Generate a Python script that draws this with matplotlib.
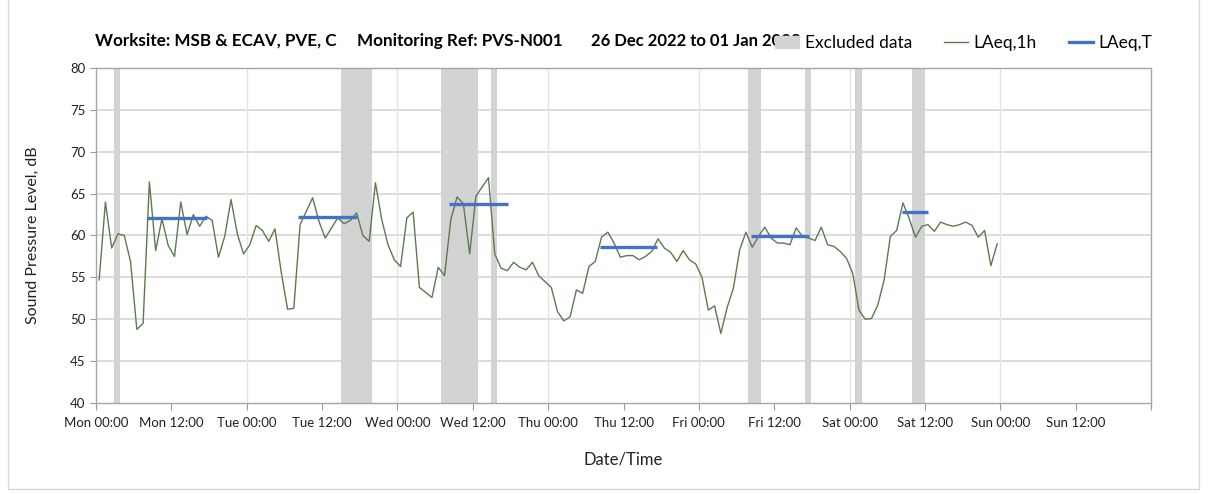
import numpy as np
import matplotlib
matplotlib.use("Agg")
from matplotlib import pyplot as plt
from matplotlib.patches import Patch, Rectangle
from matplotlib.lines import Line2D

plt.rcParams['font.family'] = ['Lato', 'DejaVu Sans']

# hourly LAeq,1h values, Mon 00:00 onwards (one per hour)
laeq_1h = [
    54.7, 64.0, 58.5, 60.2, 60.0, 56.9, 48.8, 49.5, 66.4, 58.2, 62.0, 58.8,
    57.5, 64.0, 60.1, 62.5, 61.1, 62.3, 61.8, 57.4, 59.9, 64.3, 60.2, 57.8,
    58.9, 61.2, 60.6, 59.3, 60.8, 55.6, 51.2, 51.3, 61.3, 62.9, 64.5, 61.7,
    59.7, 60.9, 62.1, 61.4, 61.8, 62.7, 60.0, 59.3, 66.3, 61.9, 58.9, 57.1,
    56.3, 62.1, 62.8, 53.8, 53.2, 52.6, 56.2, 55.2, 61.9, 64.6, 63.8, 57.8,
    64.7, 65.8, 66.9, 57.8, 56.1, 55.8, 56.8, 56.2, 55.9, 56.8, 55.2, 54.5,
    53.8, 50.9, 49.8, 50.3, 53.5, 53.1, 56.3, 56.9, 59.8, 60.4, 59.1, 57.4,
    57.6, 57.6, 57.1, 57.5, 58.1, 59.6, 58.5, 58.0, 56.9, 58.2, 57.1, 56.6,
    55.0, 51.1, 51.6, 48.3, 51.4, 53.7, 58.3, 60.4, 58.6, 59.9, 61.0, 59.7,
    59.1, 59.1, 58.9, 60.9, 59.9, 59.7, 59.4, 61.0, 58.9, 58.7, 58.1, 57.3,
    55.5, 51.1, 50.0, 50.1, 51.7, 54.7, 59.9, 60.6, 63.9, 62.0, 59.8, 61.1,
    61.3, 60.5, 61.6, 61.3, 61.1, 61.3, 61.6, 61.2, 59.8, 60.6, 56.4, 59.0,
]

# excluded periods, hours from Mon 00:00
excl_start = [2.9, 39.0, 55.0, 62.9, 103.9, 112.9, 120.9, 129.9]
excl_end = [3.9, 43.9, 60.8, 63.8, 105.9, 113.9, 122.0, 132.0]

# LAeq,T daytime levels
laeqt_start = [8.2, 32.2, 56.2, 80.3, 104.3, 128.3]
laeqt_end = [17.6, 41.6, 65.6, 89.4, 113.5, 132.5]
laeqt_val = [62.1, 62.2, 63.8, 58.6, 59.9, 62.8]

days = ['Mon', 'Tue', 'Wed', 'Thu', 'Fri', 'Sat', 'Sun']
tick_labels = [f'{d} {t}' for d in days for t in ('00:00', '12:00')] + ['']

W, H = 1208, 494
fig = plt.figure(figsize=(W / 100, H / 100), dpi=100)
ax = fig.add_axes([96 / W, 1 - 403 / H, (1151 - 96) / W, (403 - 68) / H])

grid_col = '#d9d9d9'
for s, e in zip(excl_start, excl_end):
    ax.axvspan(s, e, color='#d3d3d3', lw=0, zorder=1)

for y in range(45, 81, 5):
    ax.axhline(y, color=grid_col, lw=1.3, zorder=0)
for x in range(24, 168, 24):
    ax.axvline(x, color='#e3e3e3', lw=1.0, zorder=0)

hours = np.arange(len(laeq_1h)) + 0.5
ax.plot(hours, laeq_1h, color='#5b7b4f', lw=1.0, zorder=3)
ax.hlines(laeqt_val, laeqt_start, laeqt_end, color='#4472c4', lw=2.4, zorder=4)

ax.set_xlim(0, 168)
ax.set_ylim(40, 80)
ax.set_xticks(range(0, 169, 12))
ax.set_xticklabels(tick_labels, fontsize=9.5, color='#222222')
ax.set_yticks(range(40, 81, 5))
ax.tick_params(axis='y', labelsize=9.5, colors='#222222', length=4, color='#999999')
ax.tick_params(axis='x', length=5, color='#999999', pad=5)
for sp in ax.spines.values():
    sp.set_color('#a6a6a6')
    sp.set_linewidth(1.0)

ax.set_ylabel('Sound Pressure Level, dB', fontsize=11.5, color='#222222', labelpad=22)
ax.set_xlabel('Date/Time', fontsize=12, color='#222222', labelpad=16)

# title pieces
ty = 1 - 41 / H
fig.text(95 / W, ty, 'Worksite: MSB & ECAV, PVE, C', fontsize=12.3, fontweight='bold', va='center')
fig.text(357 / W, ty, 'Monitoring Ref: PVS-N001', fontsize=12.3, fontweight='bold', va='center')
fig.text(591 / W, ty, '26 Dec 2022 to 01 Jan 2023', fontsize=12, fontweight='bold', va='center')

handles = [Patch(color='#d3d3d3'),
           Line2D([], [], color='#5b7b4f', lw=1.0),
           Line2D([], [], color='#4472c4', lw=2.4)]
fig.legend(handles, ['Excluded data', 'LAeq,1h', 'LAeq,T'], ncol=3, frameon=False,
           loc='center left', bbox_to_anchor=(775 / W, 1 - 43 / H), fontsize=12.5,
           borderpad=0, borderaxespad=0,
           handlelength=1.4, handletextpad=0.3, columnspacing=1.85)

fig.patches.append(Rectangle((8 / W, 5 / H), 1191 / W, 1, transform=fig.transFigure,
                             fill=False, edgecolor='#d9d9d9', lw=1))

fig.savefig('out.png', dpi=100)
